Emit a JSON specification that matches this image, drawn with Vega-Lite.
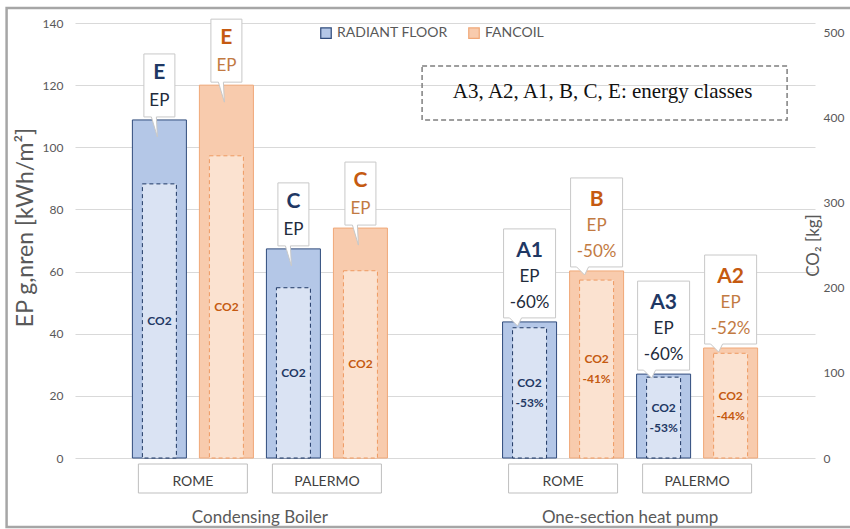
{
  "$schema": "https://vega.github.io/schema/vega-lite/v6.json",
  "width": 740,
  "height": 435,
  "autosize": {"type": "none"},
  "padding": {"left": 75, "top": 23, "right": 35, "bottom": 71},
  "background": "white",
  "config": {
    "font": "Lato",
    "view": {"stroke": null},
    "axis": {
      "labelFont": "Lato",
      "labelColor": "#595959",
      "labelFontSize": 12,
      "titleFont": "Lato",
      "titleColor": "#595959",
      "titleFontWeight": "normal",
      "gridColor": "#d9d9d9",
      "domain": false,
      "ticks": false
    },
    "legend": {"labelFont": "Lato"}
  },
  "data": {
    "values": [
      {"group": "Condensing Boiler", "city": "ROME", "system": "RADIANT FLOOR", "sub": "ROME RADIANT FLOOR", "ep": 108.8, "co2": 322, "cls": "E", "ep_pct": null, "co2_pct": null},
      {"group": "Condensing Boiler", "city": "ROME", "system": "FANCOIL", "sub": "ROME FANCOIL", "ep": 120.0, "co2": 355, "cls": "E", "ep_pct": null, "co2_pct": null},
      {"group": "Condensing Boiler", "city": "PALERMO", "system": "RADIANT FLOOR", "sub": "PALERMO RADIANT FLOOR", "ep": 67.3, "co2": 200, "cls": "C", "ep_pct": null, "co2_pct": null},
      {"group": "Condensing Boiler", "city": "PALERMO", "system": "FANCOIL", "sub": "PALERMO FANCOIL", "ep": 74.0, "co2": 220, "cls": "C", "ep_pct": null, "co2_pct": null},
      {"group": "One-section heat pump", "city": "ROME", "system": "RADIANT FLOOR", "sub": "ROME RADIANT FLOOR", "ep": 43.8, "co2": 153, "cls": "A1", "ep_pct": "-60%", "co2_pct": "-53%"},
      {"group": "One-section heat pump", "city": "ROME", "system": "FANCOIL", "sub": "ROME FANCOIL", "ep": 60.2, "co2": 209, "cls": "B", "ep_pct": "-50%", "co2_pct": "-41%"},
      {"group": "One-section heat pump", "city": "PALERMO", "system": "RADIANT FLOOR", "sub": "PALERMO RADIANT FLOOR", "ep": 27.0, "co2": 95, "cls": "A3", "ep_pct": "-60%", "co2_pct": "-53%"},
      {"group": "One-section heat pump", "city": "PALERMO", "system": "FANCOIL", "sub": "PALERMO FANCOIL", "ep": 35.4, "co2": 123, "cls": "A2", "ep_pct": "-52%", "co2_pct": "-44%"}
    ]
  },
  "encoding": {
    "x": {
      "field": "group",
      "type": "nominal",
      "scale": {"domain": ["Condensing Boiler", "One-section heat pump"], "paddingInner": 0.311, "paddingOuter": 0.155},
      "axis": {"title": null, "labelAngle": 0, "labelPadding": 51, "labelFontSize": 17, "grid": false}
    }
  },
  "layer": [
    {
      "data": {"values": [{"note": "frame"}]},
      "mark": {"type": "point", "shape": "M-623.5,435V-84H222V435Z", "size": 4, "filled": false, "stroke": "#a6a6a6", "strokeWidth": 2.5, "opacity": 1},
      "encoding": {
        "x": {"datum": "One-section heat pump", "type": "nominal", "scale": {"domain": ["Condensing Boiler", "One-section heat pump"], "paddingInner": 0.311, "paddingOuter": 0.155}},
        "y": {"datum": 117.8, "type": "quantitative", "scale": {"domain": [0, 140], "nice": false}, "axis": null}
      }
    },
    {
      "mark": {"type": "bar", "strokeWidth": 1},
      "encoding": {
        "xOffset": {"field": "sub", "type": "nominal", "scale": {"domain": ["ROME RADIANT FLOOR", "ROME FANCOIL", "PALERMO RADIANT FLOOR", "PALERMO FANCOIL"], "paddingInner": 0.194, "paddingOuter": 0}},
        "y": {
          "field": "ep", "type": "quantitative",
          "scale": {"domain": [0, 140], "nice": false},
          "axis": {"orient": "left", "values": [0, 20, 40, 60, 80, 100, 120, 140], "grid": true, "labelPadding": 12, "title": "EP g,nren [kWh/m²]", "titleFontSize": 23, "titleX": -50, "titleY": 204, "titleAngle": 270, "titleBaseline": "middle", "titleAlign": "center"}
        },
        "fill": {"field": "system", "type": "nominal", "scale": {"domain": ["RADIANT FLOOR", "FANCOIL"], "range": ["#b4c7e7", "#f8cbad"]},
          "legend": {"title": null, "orient": "none", "legendX": 244, "legendY": 3, "direction": "horizontal", "symbolType": "square", "symbolSize": 110, "symbolStrokeWidth": 1.2, "labelFontSize": 14, "labelColor": "#595959", "labelOffset": 4, "columnPadding": 18, "padding": 0}},
        "stroke": {"field": "system", "type": "nominal", "scale": {"domain": ["RADIANT FLOOR", "FANCOIL"], "range": ["#2f4b7c", "#f0a878"]},
          "legend": {"title": null, "orient": "none", "legendX": 244, "legendY": 3, "direction": "horizontal", "symbolType": "square", "symbolSize": 110, "symbolStrokeWidth": 1.2, "labelFontSize": 14, "labelColor": "#595959", "labelOffset": 4, "columnPadding": 18, "padding": 0}}
      }
    },
    {
      "mark": {"type": "bar", "width": 34, "strokeDash": [4, 3], "strokeWidth": 1},
      "encoding": {
        "xOffset": {"field": "sub", "type": "nominal", "scale": {"domain": ["ROME RADIANT FLOOR", "ROME FANCOIL", "PALERMO RADIANT FLOOR", "PALERMO FANCOIL"], "paddingInner": 0.194, "paddingOuter": 0}},
        "y": {
          "field": "co2", "type": "quantitative",
          "scale": {"domain": [0, 511], "nice": false},
          "axis": {"orient": "right", "values": [0, 100, 200, 300, 400, 500], "grid": false, "labelPadding": 8, "title": "CO₂ [kg]", "titleFontSize": 17, "titleX": -2, "titleY": 222, "titleAngle": 270, "titleBaseline": "middle", "titleAlign": "center"}
        },
        "fill": {"field": "system", "type": "nominal", "scale": {"domain": ["RADIANT FLOOR", "FANCOIL"], "range": ["#dae3f3", "#fbe2d0"]}, "legend": null},
        "stroke": {"field": "system", "type": "nominal", "scale": {"domain": ["RADIANT FLOOR", "FANCOIL"], "range": ["#1f3864", "#ee9a62"]}, "legend": null}
      }
    },
    {
      "transform": [{"filter": "!isValid(datum.co2_pct)"}],
      "mark": {"type": "text", "fontSize": 12, "fontWeight": "bold", "baseline": "middle"},
      "encoding": {
        "xOffset": {"field": "sub", "type": "nominal", "scale": {"domain": ["ROME RADIANT FLOOR", "ROME FANCOIL", "PALERMO RADIANT FLOOR", "PALERMO FANCOIL"], "paddingInner": 0.194, "paddingOuter": 0}},
        "y": {"field": "co2", "type": "quantitative", "scale": {"domain": [0, 1022], "nice": false}, "axis": null},
        "text": {"value": "CO2"},
        "color": {"field": "system", "type": "nominal", "scale": {"domain": ["RADIANT FLOOR", "FANCOIL"], "range": ["#1f3864", "#c55a11"]}, "legend": null}
      }
    },
    {
      "transform": [{"filter": "isValid(datum.co2_pct)"}],
      "mark": {"type": "text", "fontSize": 12, "fontWeight": "bold", "baseline": "middle", "dy": -10},
      "encoding": {
        "xOffset": {"field": "sub", "type": "nominal", "scale": {"domain": ["ROME RADIANT FLOOR", "ROME FANCOIL", "PALERMO RADIANT FLOOR", "PALERMO FANCOIL"], "paddingInner": 0.194, "paddingOuter": 0}},
        "y": {"field": "co2", "type": "quantitative", "scale": {"domain": [0, 1022], "nice": false}, "axis": null},
        "text": {"value": "CO2"},
        "color": {"field": "system", "type": "nominal", "scale": {"domain": ["RADIANT FLOOR", "FANCOIL"], "range": ["#1f3864", "#c55a11"]}, "legend": null}
      }
    },
    {
      "transform": [{"filter": "isValid(datum.co2_pct)"}],
      "mark": {"type": "text", "fontSize": 12, "fontWeight": "bold", "baseline": "middle", "dy": 10},
      "encoding": {
        "xOffset": {"field": "sub", "type": "nominal", "scale": {"domain": ["ROME RADIANT FLOOR", "ROME FANCOIL", "PALERMO RADIANT FLOOR", "PALERMO FANCOIL"], "paddingInner": 0.194, "paddingOuter": 0}},
        "y": {"field": "co2", "type": "quantitative", "scale": {"domain": [0, 1022], "nice": false}, "axis": null},
        "text": {"field": "co2_pct"},
        "color": {"field": "system", "type": "nominal", "scale": {"domain": ["RADIANT FLOOR", "FANCOIL"], "range": ["#1f3864", "#c55a11"]}, "legend": null}
      }
    },
    {
      "transform": [{"filter": "!isValid(datum.ep_pct)"}],
      "mark": {"type": "point", "shape": "M-15.5,-3V-66H15.5V-3H-3L-2,17L-8,-3Z", "size": 4, "filled": true, "fill": "white", "stroke": "#c8c8c8", "strokeWidth": 1, "opacity": 1},
      "encoding": {
        "xOffset": {"field": "sub", "type": "nominal", "scale": {"domain": ["ROME RADIANT FLOOR", "ROME FANCOIL", "PALERMO RADIANT FLOOR", "PALERMO FANCOIL"], "paddingInner": 0.194, "paddingOuter": 0}},
        "y": {"field": "ep", "type": "quantitative", "scale": {"domain": [0, 140], "nice": false}, "axis": null}
      }
    },
    {
      "transform": [{"filter": "isValid(datum.ep_pct)"}],
      "mark": {"type": "point", "shape": "M-26,-4V-93H26V-4H-8L-12,4L-20,-4Z", "size": 4, "filled": true, "fill": "white", "stroke": "#c8c8c8", "strokeWidth": 1, "opacity": 1},
      "encoding": {
        "xOffset": {"field": "sub", "type": "nominal", "scale": {"domain": ["ROME RADIANT FLOOR", "ROME FANCOIL", "PALERMO RADIANT FLOOR", "PALERMO FANCOIL"], "paddingInner": 0.194, "paddingOuter": 0}},
        "y": {"field": "ep", "type": "quantitative", "scale": {"domain": [0, 140], "nice": false}, "axis": null}
      }
    },
    {
      "transform": [{"filter": "!isValid(datum.ep_pct)"}],
      "mark": {"type": "text", "fontSize": 21, "fontWeight": "bold", "baseline": "middle", "dy": -47},
      "encoding": {
        "xOffset": {"field": "sub", "type": "nominal", "scale": {"domain": ["ROME RADIANT FLOOR", "ROME FANCOIL", "PALERMO RADIANT FLOOR", "PALERMO FANCOIL"], "paddingInner": 0.194, "paddingOuter": 0}},
        "y": {"field": "ep", "type": "quantitative", "scale": {"domain": [0, 140], "nice": false}, "axis": null},
        "text": {"field": "cls"},
        "color": {"field": "system", "type": "nominal", "scale": {"domain": ["RADIANT FLOOR", "FANCOIL"], "range": ["#1f3864", "#c55a11"]}, "legend": null}
      }
    },
    {
      "transform": [{"filter": "isValid(datum.ep_pct)"}],
      "mark": {"type": "text", "fontSize": 21, "fontWeight": "bold", "baseline": "middle", "dy": -71},
      "encoding": {
        "xOffset": {"field": "sub", "type": "nominal", "scale": {"domain": ["ROME RADIANT FLOOR", "ROME FANCOIL", "PALERMO RADIANT FLOOR", "PALERMO FANCOIL"], "paddingInner": 0.194, "paddingOuter": 0}},
        "y": {"field": "ep", "type": "quantitative", "scale": {"domain": [0, 140], "nice": false}, "axis": null},
        "text": {"field": "cls"},
        "color": {"field": "system", "type": "nominal", "scale": {"domain": ["RADIANT FLOOR", "FANCOIL"], "range": ["#1f3864", "#c55a11"]}, "legend": null}
      }
    },
    {
      "transform": [{"filter": "!isValid(datum.ep_pct)"}],
      "mark": {"type": "text", "fontSize": 17, "baseline": "middle", "dy": -19},
      "encoding": {
        "xOffset": {"field": "sub", "type": "nominal", "scale": {"domain": ["ROME RADIANT FLOOR", "ROME FANCOIL", "PALERMO RADIANT FLOOR", "PALERMO FANCOIL"], "paddingInner": 0.194, "paddingOuter": 0}},
        "y": {"field": "ep", "type": "quantitative", "scale": {"domain": [0, 140], "nice": false}, "axis": null},
        "text": {"value": "EP"},
        "color": {"field": "system", "type": "nominal", "scale": {"domain": ["RADIANT FLOOR", "FANCOIL"], "range": ["#222b3c", "#c27a42"]}, "legend": null}
      }
    },
    {
      "transform": [{"filter": "isValid(datum.ep_pct)"}],
      "mark": {"type": "text", "fontSize": 17, "baseline": "middle", "dy": -45},
      "encoding": {
        "xOffset": {"field": "sub", "type": "nominal", "scale": {"domain": ["ROME RADIANT FLOOR", "ROME FANCOIL", "PALERMO RADIANT FLOOR", "PALERMO FANCOIL"], "paddingInner": 0.194, "paddingOuter": 0}},
        "y": {"field": "ep", "type": "quantitative", "scale": {"domain": [0, 140], "nice": false}, "axis": null},
        "text": {"value": "EP"},
        "color": {"field": "system", "type": "nominal", "scale": {"domain": ["RADIANT FLOOR", "FANCOIL"], "range": ["#222b3c", "#c27a42"]}, "legend": null}
      }
    },
    {
      "transform": [{"filter": "isValid(datum.ep_pct)"}],
      "mark": {"type": "text", "fontSize": 17, "baseline": "middle", "dy": -19},
      "encoding": {
        "xOffset": {"field": "sub", "type": "nominal", "scale": {"domain": ["ROME RADIANT FLOOR", "ROME FANCOIL", "PALERMO RADIANT FLOOR", "PALERMO FANCOIL"], "paddingInner": 0.194, "paddingOuter": 0}},
        "y": {"field": "ep", "type": "quantitative", "scale": {"domain": [0, 140], "nice": false}, "axis": null},
        "text": {"field": "ep_pct"},
        "color": {"field": "system", "type": "nominal", "scale": {"domain": ["RADIANT FLOOR", "FANCOIL"], "range": ["#222b3c", "#c27a42"]}, "legend": null}
      }
    },
    {
      "transform": [{"filter": "datum.system === 'RADIANT FLOOR'"}],
      "mark": {"type": "point", "shape": "M-21,6H88V35H-21Z", "size": 4, "filled": true, "fill": "white", "stroke": "#bfbfbf", "strokeWidth": 1, "opacity": 1},
      "encoding": {
        "xOffset": {"field": "sub", "type": "nominal", "scale": {"domain": ["ROME RADIANT FLOOR", "ROME FANCOIL", "PALERMO RADIANT FLOOR", "PALERMO FANCOIL"], "paddingInner": 0.194, "paddingOuter": 0}},
        "y": {"datum": 0, "type": "quantitative", "scale": {"domain": [0, 140], "nice": false}, "axis": null}
      }
    },
    {
      "transform": [{"filter": "datum.system === 'RADIANT FLOOR'"}],
      "mark": {"type": "text", "fontSize": 14, "baseline": "middle", "dx": 33.5, "dy": 24, "color": "#404040"},
      "encoding": {
        "xOffset": {"field": "sub", "type": "nominal", "scale": {"domain": ["ROME RADIANT FLOOR", "ROME FANCOIL", "PALERMO RADIANT FLOOR", "PALERMO FANCOIL"], "paddingInner": 0.194, "paddingOuter": 0}},
        "y": {"datum": 0, "type": "quantitative", "scale": {"domain": [0, 140], "nice": false}, "axis": null},
        "text": {"field": "city"}
      }
    },
    {
      "data": {"values": [{"note": "A3, A2, A1, B, C, E: energy classes"}]},
      "mark": {"type": "point", "shape": "M-208,-26H157V28H-208Z", "size": 4, "filled": false, "stroke": "#7f7f7f", "strokeWidth": 1.5, "strokeDash": [5, 3], "opacity": 1},
      "encoding": {
        "x": {"datum": "One-section heat pump", "type": "nominal", "scale": {"domain": ["Condensing Boiler", "One-section heat pump"], "paddingInner": 0.311, "paddingOuter": 0.155}},
        "y": {"datum": 117.8, "type": "quantitative", "scale": {"domain": [0, 140], "nice": false}, "axis": null}
      }
    },
    {
      "data": {"values": [{"note": "A3, A2, A1, B, C, E: energy classes"}]},
      "mark": {"type": "text", "font": "Liberation Serif", "fontSize": 21, "baseline": "middle", "dx": -27.5, "color": "#111111"},
      "encoding": {
        "x": {"datum": "One-section heat pump", "type": "nominal", "scale": {"domain": ["Condensing Boiler", "One-section heat pump"], "paddingInner": 0.311, "paddingOuter": 0.155}},
        "y": {"datum": 117.8, "type": "quantitative", "scale": {"domain": [0, 140], "nice": false}, "axis": null},
        "text": {"field": "note"}
      }
    }
  ],
  "resolve": {"scale": {"y": "independent", "fill": "independent", "stroke": "independent", "color": "independent"}}
}
